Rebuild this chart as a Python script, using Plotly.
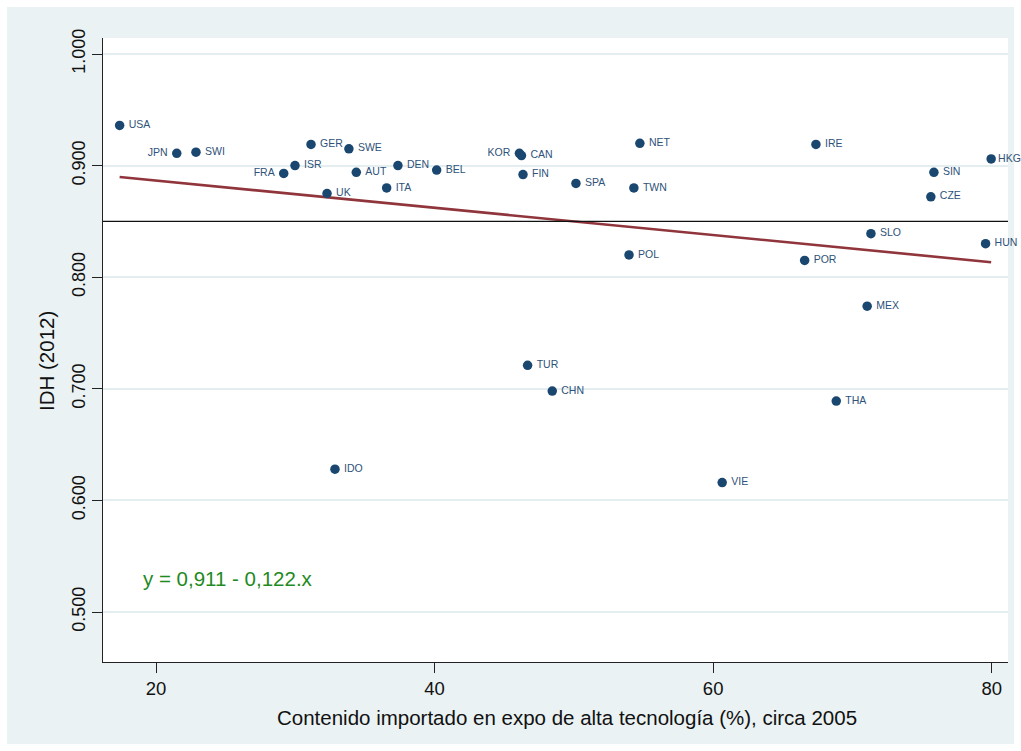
import plotly.graph_objects as go

# Country codes, imported content in high-tech exports (%) and HDI 2012
countries = ["USA", "JPN", "SWI", "GER", "SWE", "ISR", "FRA", "AUT", "DEN", "BEL",
             "UK", "ITA", "KOR", "CAN", "FIN", "SPA", "TWN", "NET", "IRE", "HKG",
             "SIN", "CZE", "SLO", "HUN", "POR", "POL", "MEX", "TUR", "CHN", "THA",
             "IDO", "VIE"]
import_content = [17.39, 21.49, 22.87, 31.13, 33.85, 29.98, 29.17, 34.38, 37.37, 40.15,
                  32.28, 36.56, 46.09, 46.24, 46.35, 50.15, 54.31, 54.74, 67.38, 79.96,
                  75.85, 75.63, 71.33, 79.56, 66.57, 53.96, 71.06, 46.68, 48.45, 68.84,
                  32.85, 60.65]
hdi = [0.936, 0.911, 0.912, 0.919, 0.915, 0.900, 0.893, 0.894, 0.900, 0.896,
       0.875, 0.880, 0.911, 0.909, 0.892, 0.884, 0.880, 0.920, 0.919, 0.906,
       0.894, 0.872, 0.839, 0.830, 0.815, 0.820, 0.774, 0.721, 0.698, 0.689,
       0.628, 0.616]
# labels drawn on the left of their marker
left_labels = {"KOR", "JPN", "FRA"}
# labels at the right edge keep the tight default gap
edge_labels = {"HKG"}

# linear fit: y = a + b * (x / 100)
fit_a = 0.911
fit_b = -0.122
ref_level = 0.85

x_ticks = [20, 40, 60, 80]
y_ticks = [0.5, 0.6, 0.7, 0.8, 0.9, 1.0]
y_ticktext = ["0.500", "0.600", "0.700", "0.800", "0.900", "1.000"]

x_title = "Contenido importado en expo de alta tecnología (%), circa 2005"
y_title = "IDH (2012)"
fit_text = "y = 0,911 - 0,122.x"

navy = "#1a476f"
maroon = "#90353b"
bg = "#eaf2f3"
font = "Liberation Sans, Arial, sans-serif"

fig = go.Figure()

x_min, x_max = min(import_content), max(import_content)
fig.add_trace(go.Scatter(
    x=[x_min, x_max],
    y=[fit_a + fit_b * x_min / 100, fit_a + fit_b * x_max / 100],
    mode="lines", line=dict(color=maroon, width=2.6),
    hoverinfo="skip", showlegend=False,
))

# a thin space widens the gap between marker and label
def label_for(c):
    if c in edge_labels:
        return c
    if c in left_labels:
        return c + "\u2009"
    return "\u2009" + c

labels = [label_for(c) for c in countries]
positions = ["middle left" if c in left_labels else "middle right" for c in countries]
fig.add_trace(go.Scatter(
    x=import_content, y=hdi, mode="markers+text",
    text=labels, textposition=positions,
    textfont=dict(family=font, size=10.5, color="#2e5279"),
    marker=dict(color=navy, size=9.5, line=dict(width=0)),
    cliponaxis=False, showlegend=False,
))

# plot area geometry in pixels
W, H = 1021, 751
L, R, T, B = 103, 13, 38, 89
pw, ph = W - L - R, H - T - B

def px_to_paper_x(px):
    return (px - L) / pw

def px_to_paper_y(py):
    return (H - B - py) / ph

shapes = [
    dict(type="rect", xref="paper", yref="paper", layer="below",
         x0=px_to_paper_x(7), x1=px_to_paper_x(1014),
         y0=px_to_paper_y(744), y1=px_to_paper_y(7),
         fillcolor=bg, line=dict(width=0)),
    dict(type="rect", xref="paper", yref="paper", layer="below",
         x0=0, x1=1, y0=0, y1=1, fillcolor="white", line=dict(width=0)),
    dict(type="line", xref="paper", yref="y", layer="above",
         x0=0, x1=1, y0=ref_level, y1=ref_level,
         line=dict(color="#111111", width=1.2)),
]

title_font = dict(family=font, size=20.5, color="#111111")
fig.update_layout(
    width=W, height=H,
    margin=dict(l=L, r=R, t=T, b=B, pad=0),
    paper_bgcolor="white", plot_bgcolor="white",
    font=dict(family=font, color="#111111"),
    shapes=shapes,
    annotations=[
        dict(x=18.92, y=0.5296, xref="x", yref="y", xanchor="left", yanchor="middle",
             text=fit_text, showarrow=False,
             font=dict(family=font, size=20.5, color="#1f8a1f")),
        dict(x=px_to_paper_x(567), y=px_to_paper_y(717), xref="paper", yref="paper",
             xanchor="center", yanchor="middle", text=x_title, showarrow=False,
             font=title_font),
        dict(x=px_to_paper_x(47), y=px_to_paper_y(361), xref="paper", yref="paper",
             xanchor="center", yanchor="middle", text=y_title, textangle=-90,
             showarrow=False, font=title_font),
    ],
)

fig.update_xaxes(
    range=[16.195, 81.17], tickvals=x_ticks, ticks="outside", ticklen=10,
    tickcolor="#222222", tickwidth=1, showline=True, linecolor="#222222",
    linewidth=1.2, showgrid=False, zeroline=False,
    tickfont=dict(family=font, size=18.5, color="#111111"),
)
fig.update_yaxes(
    range=[0.4552, 1.01434], tickvals=y_ticks, ticktext=y_ticktext,
    tickangle=-90, ticks="outside", ticklen=10, tickcolor="#222222", tickwidth=1,
    showline=True, linecolor="#222222", linewidth=1.2,
    showgrid=True, gridcolor="#e4eef1", gridwidth=2, zeroline=False,
    tickfont=dict(family=font, size=18, color="#111111"),
)

fig.write_html("out.html")
